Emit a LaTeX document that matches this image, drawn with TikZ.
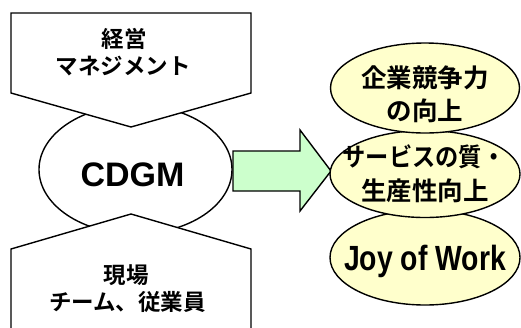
\documentclass[tikz,border=0pt]{standalone}
\usepackage{fontspec}
\setmainfont{Liberation Sans}
\newfontfamily\jp{Noto Sans CJK JP Bold}
\usetikzlibrary{shapes.geometric}
\definecolor{armgreen}{HTML}{CCFFCC}
\definecolor{ovyellow}{HTML}{FFFFCC}
\tikzset{
  outl/.style={draw=black, line width=1.4pt, line join=miter},
  oval/.style={outl, ellipse, inner sep=0pt},
  jpA/.style={font=\jp\fontsize{22.5}{22.5}\selectfont, inner sep=0pt, anchor=base},
  jpB/.style={font=\jp\fontsize{25.5}{25.5}\selectfont, inner sep=0pt, anchor=base},
}
\begin{document}
\begin{tikzpicture}[x=1pt,y=-1pt]
\useasboundingbox (0,0) rectangle (521,327);
\clip (0,0) rectangle (521,327);
\fill[white] (0,0) rectangle (521,327);
% central oval
\node[oval, fill=white, minimum width=193pt, minimum height=129pt] (cdgm) at (135.5,169.5) {};
% arrow
\draw[outl, fill=armgreen] (233,151) -- (300,151) -- (300,130) -- (331,171) -- (300,211) -- (300,191) -- (233,191) -- cycle;
% top pentagon
\draw[outl, fill=white] (11,13) -- (251,13) -- (251,93) -- (131,127) -- (11,93) -- cycle;
% bottom pentagon
\draw[outl, fill=white] (11,340) -- (11,249) -- (131,214) -- (251,249) -- (251,340) -- cycle;
% right ovals
\node[oval, fill=ovyellow, minimum width=190pt, minimum height=95pt] (e3) at (425,257.5) {};
\node[oval, fill=ovyellow, minimum width=190pt, minimum height=87pt] (e2) at (425,174) {};
\node[oval, fill=ovyellow, minimum width=189pt, minimum height=90pt] (e1) at (425,88) {};
% texts
\node[jpA] (t1) at (124,47) {経営};
\node[jpA] (t2) at (123,74.5) {マネジメント};
\node[jpA] (b1) at (126,283.5) {現場};
\node[jpA] (b2) at (127.5,310.5) {チーム、従業員};
\node[font=\bfseries\fontsize{34}{34}\selectfont, inner sep=0pt, anchor=base] (c) at (132.5,186) {CDGM};
\node[jpB] (r1) at (425,87) {企業競争力};
\node[jpB] (r2) at (425,120.5) {の向上};
\node[jpB, xscale=0.91] (r3) at (424,166.5) {サービスの質・};
\node[jpB] (r4) at (425,200.5) {生産性向上};
\node[font=\bfseries\fontsize{35}{35}\selectfont, inner sep=0pt, anchor=base, xscale=0.81] (r5) at (425,270) {Joy of Work};
\end{tikzpicture}
\end{document}
